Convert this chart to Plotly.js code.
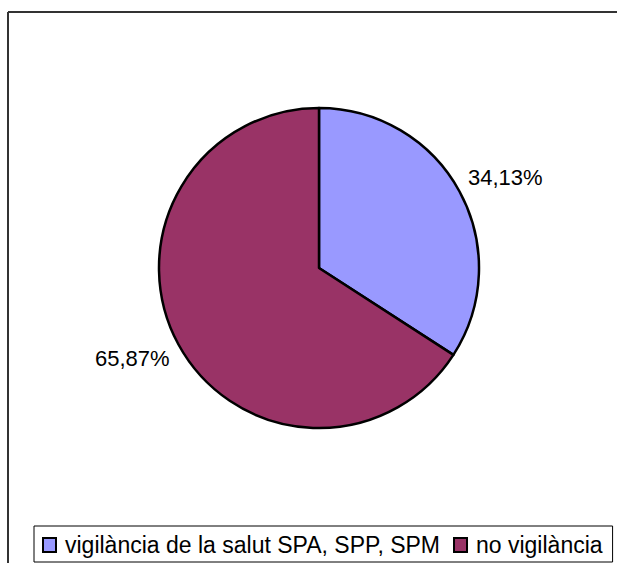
<!DOCTYPE html>
<html>
<head>
<meta charset="utf-8">
<script src="https://cdn.plot.ly/plotly-3.0.1.min.js"></script>
<style>html,body{margin:0;padding:0;background:#fff;}#chart{width:617px;height:563px;}</style>
</head>
<body>
<div id="chart"></div>
<script>
const categories = ["vigilància de la salut SPA, SPP, SPM", "no vigilància"];
const values = [34.13, 65.87];
const colors = ["#9999FF", "#993366"];

const W = 617, H = 563;
const FONT = "Liberation Sans, Arial, sans-serif";
const FS = 22;      // slice labels
const LFS = 23;     // legend

// pie geometry (pixels)
const CX = 319, CY = 268, R = 160;
const px = x => x / W;
const py = y => 1 - y / H;

const data = [{
  type: "pie",
  labels: categories,
  values: values,
  sort: false,
  direction: "clockwise",
  rotation: 0,
  marker: {colors: colors, line: {color: "#000000", width: 2.5}},
  textinfo: "none",
  hoverinfo: "none",
  showlegend: false,
  domain: {x: [px(CX - R), px(CX + R)], y: [py(CY + R), py(CY - R)]}
}];

const annotations = [];
const shapes = [];

// percentage labels outside each slice
const total = values.reduce((a, b) => a + b, 0);
let cum = 0;
values.forEach((v, i) => {
  const mid = (cum + v / 2) / total * 2 * Math.PI;
  cum += v;
  const s = Math.sin(mid), c = Math.cos(mid);
  const ex = CX + R * s, ey = CY - R * c;
  const pct = (v / total * 100).toFixed(2).replace(".", ",") + "%";
  annotations.push({
    xref: "paper", yref: "paper",
    x: px(ex + (s >= 0 ? 7 : -7)), y: py(ey),
    xanchor: s >= 0 ? "left" : "right",
    yanchor: c >= 0 ? "bottom" : "top",
    text: pct, showarrow: false, borderpad: 0,
    font: {family: FONT, size: FS, color: "#000000"}
  });
});

// frame lines (top and left)
shapes.push({type: "line", xref: "paper", yref: "paper", x0: px(8), x1: 1, y0: py(12), y1: py(12), line: {color: "#333333", width: 2}});
shapes.push({type: "line", xref: "paper", yref: "paper", x0: px(8), x1: px(8), y0: 0, y1: py(12), line: {color: "#333333", width: 2}});

// legend (custom, measured text)
const cv = document.createElement("canvas").getContext("2d");
cv.font = LFS + "px 'Liberation Sans', Arial, sans-serif";
const LEG_L = 34, LEG_T = 526, LEG_B = 562, LEG_CY = 545;
let x = LEG_L + 8;
categories.forEach((cat, i) => {
  if (i > 0) x += 14;
  shapes.push({type: "rect", xref: "paper", yref: "paper",
    x0: px(x + 1), x1: px(x + 14), y0: py(LEG_CY + 7), y1: py(LEG_CY - 7),
    fillcolor: colors[i], line: {color: "#000000", width: 2}});
  const tx = x + 22;
  annotations.push({xref: "paper", yref: "paper", x: px(tx), y: py(LEG_CY - 0.5),
    xanchor: "left", yanchor: "middle", text: cat, showarrow: false, borderpad: 0,
    font: {family: FONT, size: LFS, color: "#000000"}});
  x = tx + cv.measureText(cat).width;
});
const LEG_R = x + 11;
shapes.unshift({type: "rect", xref: "paper", yref: "paper",
  x0: px(LEG_L), x1: px(LEG_R), y0: py(LEG_B), y1: py(LEG_T),
  fillcolor: "#ffffff", line: {color: "#000000", width: 1}, layer: "below"});

const layout = {
  width: W, height: H,
  margin: {l: 0, r: 0, t: 0, b: 0},
  paper_bgcolor: "#ffffff",
  plot_bgcolor: "#ffffff",
  font: {family: FONT, size: FS, color: "#000000"},
  showlegend: false,
  shapes: shapes,
  annotations: annotations
};

Plotly.newPlot("chart", data, layout, {staticPlot: true, displayModeBar: false});
</script>
</body>
</html>
